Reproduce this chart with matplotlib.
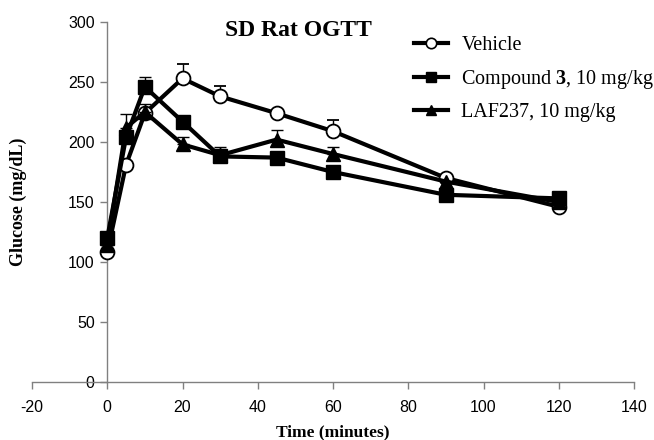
import matplotlib
matplotlib.use("Agg")
import matplotlib.pyplot as plt
from matplotlib.lines import Line2D

time = [0, 5, 10, 20, 30, 45, 60, 90, 120]
vehicle = [108, 181, 224, 253, 238, 224, 209, 170, 146]
vehicle_err = [0, 0, 0, 12, 9, 0, 9, 0, 0]
compound3 = [120, 204, 246, 217, 188, 187, 175, 156, 153]
compound3_err = [0, 0, 8, 0, 0, 0, 0, 0, 0]
laf237 = [114, 212, 225, 198, 189, 202, 190, 167, 150]
laf237_err = [0, 11, 7, 6, 7, 8, 6, 0, 0]

series_labels = ["Vehicle", r"Compound $\mathbf{3}$, 10 mg/kg", "LAF237, 10 mg/kg"]
xticks = [-20, 0, 20, 40, 60, 80, 100, 120, 140]
yticks = [0, 50, 100, 150, 200, 250, 300]

plt.rcParams['mathtext.fontset'] = 'custom'
plt.rcParams['mathtext.bf'] = 'Liberation Serif:bold'
plt.rcParams['mathtext.rm'] = 'Liberation Serif'
plt.rcParams['axes.unicode_minus'] = False

fig = plt.figure(figsize=(6.54, 4.40), dpi=100)
ax = fig.add_axes([32/654, 58/440, (634-32)/654, (382-22)/440])

lw = 3.0
common = dict(color='black', lw=lw, ecolor='black', elinewidth=1.0, capsize=4, capthick=1.0)
zeros = [0]*len(time)
ax.errorbar(time, vehicle, yerr=[zeros, vehicle_err], marker='o', ms=10,
            mfc='white', mec='black', mew=1.3, zorder=3, **common)
ax.errorbar(time, compound3, yerr=[zeros, compound3_err], marker='s', ms=10,
            mfc='black', mec='black', zorder=4, **common)
ax.errorbar(time, laf237, yerr=[zeros, laf237_err], marker='^', ms=10,
            mfc='black', mec='black', zorder=5, **common)

ax.set_xlim(-20, 140)
ax.set_ylim(0, 300)
ax.set_xticks(xticks)
ax.set_yticks(yticks)
ax.spines['left'].set_position(('data', 0))
ax.spines['top'].set_visible(False)
ax.spines['right'].set_visible(False)
for s in ['left', 'bottom']:
    ax.spines[s].set_color('#808080')
    ax.spines[s].set_linewidth(1.0)
ax.tick_params(axis='both', direction='out', length=5, color='#808080', width=1.0,
               labelsize=11.5, labelcolor='black')
for lab in ax.get_xticklabels() + ax.get_yticklabels():
    lab.set_fontfamily('Liberation Sans')
ax.tick_params(axis='x', pad=8)
ax.tick_params(axis='y', pad=4)

fig.text(333/654, 1 - 432/440, 'Time (minutes)', ha='center', va='center',
         fontsize=12.5, fontweight='bold', family='Liberation Serif')
fig.text(18/654, 1 - 202/440, 'Glucose (mg/dL)', ha='center', va='center', rotation=90,
         fontsize=13, fontweight='bold', family='Liberation Serif')
fig.text(298/654, 1 - 30/440, 'SD Rat OGTT', ha='center', va='center',
         fontsize=17, fontweight='bold', family='Liberation Serif')

handles = [
    Line2D([], [], color='black', lw=lw, marker='o', ms=7.5, mfc='white', mec='black', mew=1.2),
    Line2D([], [], color='black', lw=lw, marker='s', ms=7.5, mfc='black', mec='black'),
    Line2D([], [], color='black', lw=lw, marker='^', ms=7.5, mfc='black', mec='black'),
]
leg = ax.legend(handles, series_labels, loc='upper left', bbox_to_anchor=(396/654, 1 - 18/440),
                bbox_transform=fig.transFigure, frameon=False,
                prop={'family': 'Liberation Serif', 'size': 14.5},
                handlelength=1.7, handletextpad=0.65, labelspacing=0.62)

fig.savefig('out.png', dpi=100)
